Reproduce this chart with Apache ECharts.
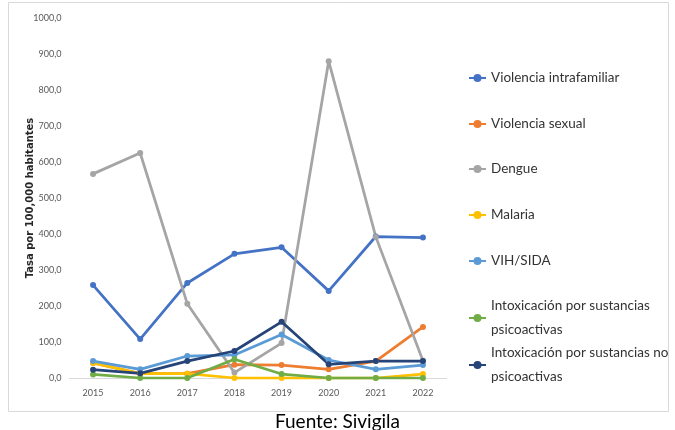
<!DOCTYPE html>
<html><head><meta charset="utf-8">
<script src="https://cdn.jsdelivr.net/npm/echarts@6/dist/echarts.min.js"></script>
<style>html,body{margin:0;padding:0;background:#fff;}#c{width:675px;height:430px;}</style>
</head><body><div id="c"></div>
<script>
const years = ['2015','2016','2017','2018','2019','2020','2021','2022'];
const yTicks = [0,100,200,300,400,500,600,700,800,900,1000];
const violenciaIntrafamiliar = [258,108,264,345,363,242,393,390];
const violenciaSexual = [42,12,12,37,36,24,47,142];
const dengue = [567,625,206,15,97,880,392,48];
const malaria = [42,12,12,0,0,0,0,11];
const vihSida = [47,24,61,64,121,50,24,36];
const intoxPsico = [10,0,0,52,11,0,0,0];
const intoxNoPsico = [23,13,47,75,156,38,47,47];

const names = ['Violencia intrafamiliar','Violencia sexual','Dengue','Malaria','VIH/SIDA',
  'Intoxicación por sustancias psicoactivas','Intoxicación por sustancias no psicoactivas'];
const labels = ['Violencia intrafamiliar','Violencia sexual','Dengue','Malaria','VIH/SIDA',
  'Intoxicación por sustancias\npsicoactivas','Intoxicación por sustancias no\npsicoactivas'];
const values = [violenciaIntrafamiliar,violenciaSexual,dengue,malaria,vihSida,intoxPsico,intoxNoPsico];
const colors = ['#4472C4','#ED7D31','#A5A5A5','#FFC000','#5B9BD5','#70AD47','#264478'];
const legendY = [78,124,169,215,261,306,353];

const chart = echarts.init(document.getElementById('c'));
const legends = names.map((n,i)=>{
  const two = labels[i].indexOf('\n')>=0;
  return {
    data:[n], orient:'vertical', left:463, top: two ? legendY[i]-29 : legendY[i]-17,
    itemWidth:17, itemHeight:10, itemGap:0,
    formatter:()=>labels[i],
    textStyle:{fontFamily:'Lato, sans-serif', fontSize:13.5, color:'#333333', lineHeight:24,
      padding: two ? [24,0,0,0] : 0}
  };
});
chart.setOption({
  animation:false,
  color:colors,
  grid:{left:69.5, right:228.5, top:18, bottom:52},
  legend:legends,
  xAxis:{type:'category', data:years, boundaryGap:true,
    axisLine:{lineStyle:{color:'#d9d9d9', width:1}}, axisTick:{show:false},
    axisLabel:{color:'#595959', fontSize:9, fontFamily:'Liberation Sans Narrow, Lato, sans-serif', margin:11}},
  yAxis:{type:'value', min:0, max:1000, interval:100,
    name:'Tasa por 100,000 habitantes', nameLocation:'middle', nameGap:34, nameMoveOverlap:false,
    nameTextStyle:{fontFamily:'DejaVu Sans, sans-serif', fontWeight:'bold', fontSize:10, color:'#262626'},
    splitLine:{show:false}, axisLine:{show:false}, axisTick:{show:false},
    axisLabel:{color:'#595959', fontSize:9, fontFamily:'Liberation Sans Narrow, Lato, sans-serif', margin:8,
      formatter:v=>v.toFixed(1).replace('.',',')}},
  series:names.map((n,i)=>({
    name:n, type:'line', data:values[i], symbol:'circle', symbolSize:6,
    lineStyle:{width:2.75, color:colors[i]}, itemStyle:{color:colors[i]}
  })),
  graphic:[
    {type:'rect', shape:{x:8.5,y:2.5,width:660,height:409}, style:{fill:null, stroke:'#d9d9d9', lineWidth:1}, silent:true},
    {type:'text', left:'center', top:412, style:{text:'Fuente: Sivigila', fontFamily:'Lato, sans-serif', fontSize:19, fill:'#000'}}
  ]
});
</script></body></html>
